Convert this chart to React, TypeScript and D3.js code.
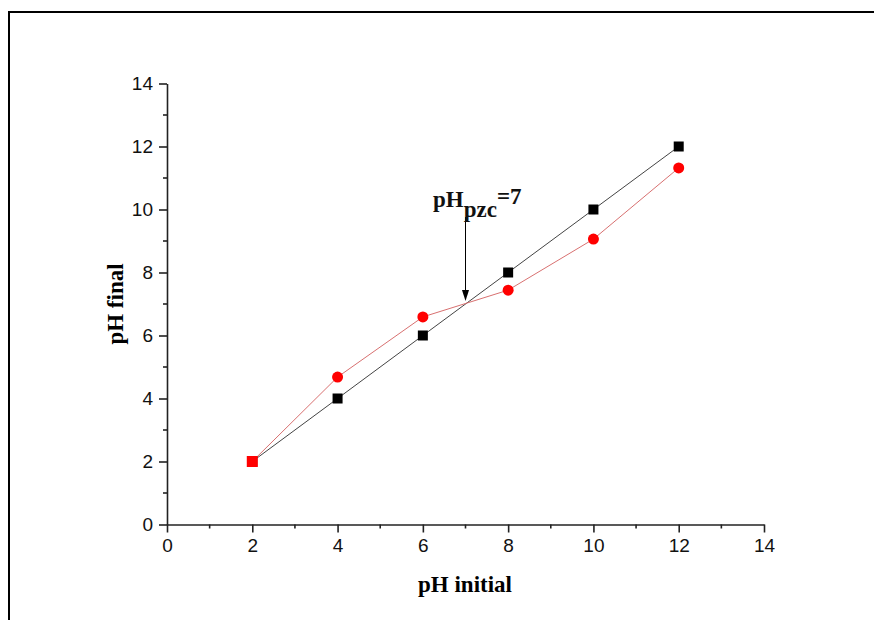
import React, { useRef, useEffect } from 'react';
import * as d3 from 'd3';

const phInitial = [2, 4, 6, 8, 10, 12];
const phFinalBlack = [2, 4, 6, 8, 10, 12];
const phFinalRed = [2, 4.68, 6.59, 7.44, 9.06, 11.32];
const xTicks = [0, 2, 4, 6, 8, 10, 12, 14];
const yTicks = [0, 2, 4, 6, 8, 10, 12, 14];
const pzc = 7;

const W = 874;
const H = 620;

const App = () => {
  const ref = useRef<SVGSVGElement>(null);

  useEffect(() => {
    const svg = d3.select(ref.current);
    svg.selectAll('*').remove();

    const x = d3.scaleLinear().domain([0, 14]).range([167, 764]);
    const y = d3.scaleLinear().domain([0, 14]).range([524.5, 83.5]);

    // outer frame (only top and left edges visible)
    svg.append('path')
      .attr('d', `M9,${H + 5}V12H${W + 5}`)
      .attr('fill', 'none')
      .attr('stroke', '#000')
      .attr('stroke-width', 2);

    const minorX = d3.range(1, 14, 2);
    const minorY = d3.range(1, 14, 2);

    // x axis
    const gx = svg.append('g').attr('transform', `translate(0,${y(0)})`);
    gx.call(d3.axisBottom(x).tickValues(xTicks).tickSize(8).tickSizeOuter(0).tickPadding(6))
      .attr('font-family', '"Liberation Sans", Arial, sans-serif')
      .attr('font-size', 19);
    gx.selectAll('line, path').attr('stroke', '#222').attr('stroke-width', 1.6);
    gx.selectAll('text').attr('fill', '#111');
    gx.append('g').selectAll('line').data(minorX).join('line')
      .attr('x1', d => x(d)).attr('x2', d => x(d))
      .attr('y1', 0).attr('y2', 4)
      .attr('stroke', '#222').attr('stroke-width', 1.6);

    // y axis
    const gy = svg.append('g').attr('transform', `translate(${x(0)},0)`);
    gy.call(d3.axisLeft(y).tickValues(yTicks).tickSize(8).tickSizeOuter(0).tickPadding(6))
      .attr('font-family', '"Liberation Sans", Arial, sans-serif')
      .attr('font-size', 19);
    gy.selectAll('line, path').attr('stroke', '#222').attr('stroke-width', 1.6);
    gy.selectAll('text').attr('fill', '#111');
    gy.append('g').selectAll('line').data(minorY).join('line')
      .attr('y1', d => y(d)).attr('y2', d => y(d))
      .attr('x1', 0).attr('x2', -4)
      .attr('stroke', '#222').attr('stroke-width', 1.6);

    // axis titles
    svg.append('text')
      .attr('x', 465).attr('y', 592)
      .attr('text-anchor', 'middle')
      .attr('font-family', '"Liberation Serif", "Times New Roman", serif')
      .attr('font-weight', 'bold').attr('font-size', 23)
      .text('pH initial');
    svg.append('text')
      .attr('transform', 'translate(123,304) rotate(-90)')
      .attr('text-anchor', 'middle')
      .attr('font-family', '"Liberation Serif", "Times New Roman", serif')
      .attr('font-weight', 'bold').attr('font-size', 23)
      .text('pH final');

    const blackPts = phInitial.map((v, i) => [v, phFinalBlack[i]] as [number, number]);
    const redPts = phInitial.map((v, i) => [v, phFinalRed[i]] as [number, number]);
    const line = d3.line<[number, number]>().x(d => x(d[0])).y(d => y(d[1]));

    svg.append('path').attr('d', line(blackPts)).attr('fill', 'none')
      .attr('stroke', '#444').attr('stroke-width', 1);
    svg.append('path').attr('d', line(redPts)).attr('fill', 'none')
      .attr('stroke', '#d87070').attr('stroke-width', 1);

    svg.append('g').selectAll('rect').data(blackPts).join('rect')
      .attr('x', d => x(d[0]) - 5).attr('y', d => y(d[1]) - 5)
      .attr('width', 10).attr('height', 10)
      .attr('fill', '#000');

    // red series: where it coincides with the black square, it is drawn as a red square
    const redG = svg.append('g');
    redPts.forEach((d, i) => {
      if (d[1] === phFinalBlack[i]) {
        redG.append('rect')
          .attr('x', x(d[0]) - 5.5).attr('y', y(d[1]) - 5.5)
          .attr('width', 11).attr('height', 11)
          .attr('fill', '#f00');
      } else {
        redG.append('circle')
          .attr('cx', x(d[0])).attr('cy', y(d[1])).attr('r', 5.5)
          .attr('fill', '#f00');
      }
    });

    // pzc annotation
    const ax = x(pzc);
    const ay = y(pzc);
    svg.append('line')
      .attr('x1', ax).attr('x2', ax)
      .attr('y1', 217).attr('y2', ay - 12)
      .attr('stroke', '#000').attr('stroke-width', 1);
    svg.append('path')
      .attr('d', `M${ax - 3.5},${ay - 14}L${ax + 3.5},${ay - 14}L${ax},${ay - 3}Z`)
      .attr('fill', '#000');

    const t = svg.append('text')
      .attr('x', 433).attr('y', 207)
      .attr('font-family', '"Liberation Serif", "Times New Roman", serif')
      .attr('font-weight', 'bold').attr('font-size', 23)
      .attr('fill', '#111');
    t.append('tspan').text('pH');
    t.append('tspan').attr('dy', 10).text('pzc');
    t.append('tspan').attr('dy', -13).text('=7');
  }, []);

  return <svg ref={ref} width={W} height={H} style={{ position: 'absolute', left: 0, top: 0 }} />;
};

export default App;
